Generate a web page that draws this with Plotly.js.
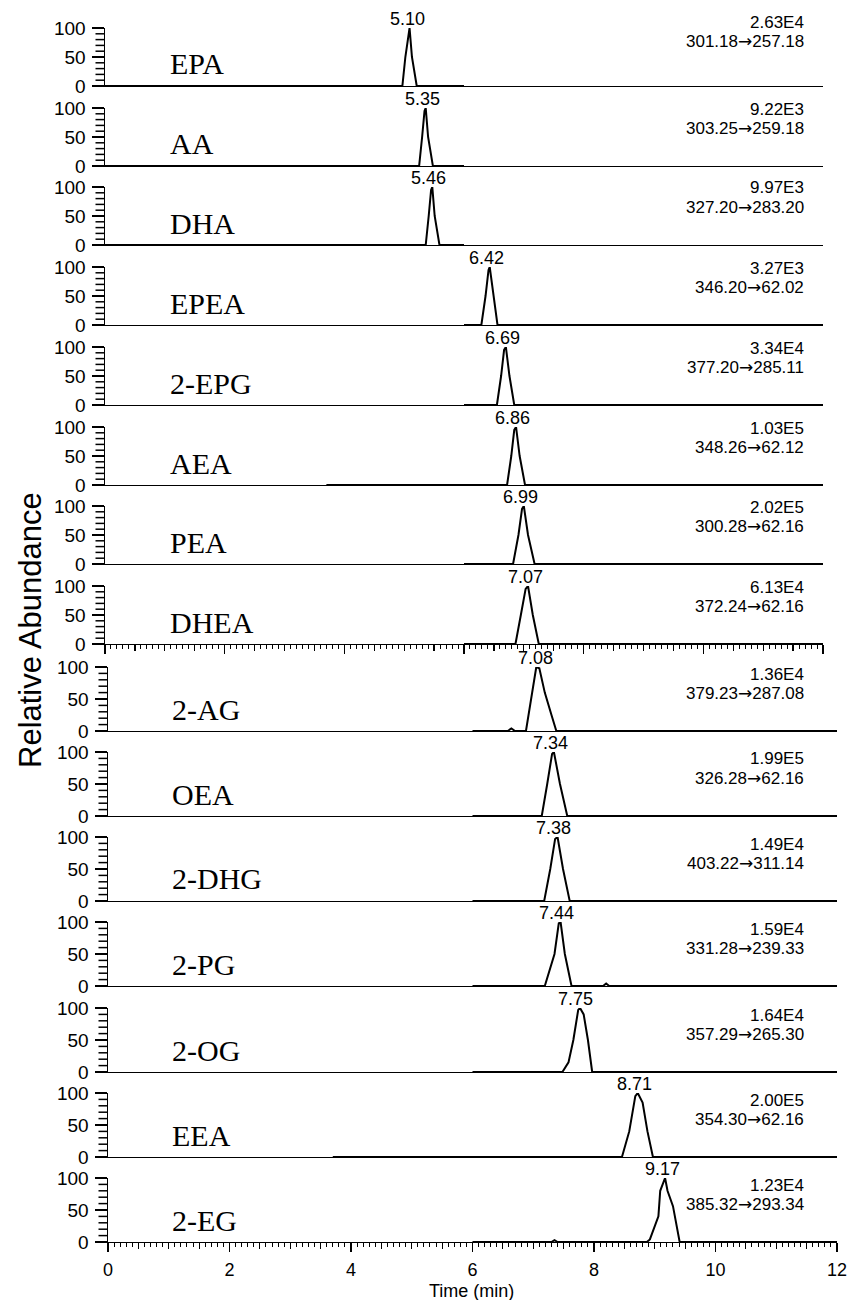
<!DOCTYPE html>
<html><head><meta charset="utf-8">
<script src="https://cdn.plot.ly/plotly-3.0.1.min.js"></script>
<style>body{margin:0;padding:0;background:#fff}</style>
</head><body><div id="chart" style="width:847px;height:1300px"></div>
<script>
// ---------- data ----------
const compounds = ['EPA','AA','DHA','EPEA','2-EPG','AEA','PEA','DHEA','2-AG','OEA','2-DHG','2-PG','2-OG','EEA','2-EG'];
const retentionTimes = ['5.10','5.35','5.46','6.42','6.69','6.86','6.99','7.07','7.08','7.34','7.38','7.44','7.75','8.71','9.17'];
const intensities = ['2.63E4','9.22E3','9.97E3','3.27E3','3.34E4','1.03E5','2.02E5','6.13E4','1.36E4','1.99E5','1.49E4','1.59E4','1.64E4','2.00E5','1.23E4'];
const precursorMz = ['301.18','303.25','327.20','346.20','377.20','348.26','300.28','372.24','379.23','326.28','403.22','331.28','357.29','354.30','385.32'];
const productMz = ['257.18','259.18','283.20','62.02','285.11','62.12','62.16','62.16','287.08','62.16','311.14','239.33','265.30','62.16','293.34'];

// chromatogram outlines (time in min, relative abundance in %)
const traceTimes = [
  [0, 4.97, 5.02, 5.07, 5.09, 5.13, 5.21, 6.0],
  [0, 5.25, 5.30, 5.34, 5.36, 5.40, 5.48, 6.0],
  [0, 5.36, 5.41, 5.45, 5.47, 5.51, 5.59, 6.0],
  [6.0, 6.29, 6.36, 6.41, 6.43, 6.49, 6.56, 12],
  [6.0, 6.55, 6.62, 6.67, 6.70, 6.76, 6.84, 12],
  [3.7, 6.72, 6.79, 6.84, 6.87, 6.93, 7.02, 12],
  [6.0, 6.82, 6.91, 6.97, 7.00, 7.07, 7.18, 12],
  [6.0, 6.86, 6.95, 7.03, 7.07, 7.15, 7.25, 12],
  [6.0, 6.58, 6.64, 6.70, 6.88, 6.97, 7.05, 7.10, 7.19, 7.30, 7.38, 12],
  [6.0, 7.14, 7.23, 7.31, 7.34, 7.44, 7.56, 12],
  [6.0, 7.18, 7.28, 7.36, 7.40, 7.49, 7.60, 12],
  [6.0, 7.19, 7.35, 7.42, 7.45, 7.52, 7.63, 8.15, 8.20, 8.25, 12],
  [6.0, 7.48, 7.58, 7.66, 7.74, 7.77, 7.83, 7.90, 7.97, 12],
  [3.7, 8.46, 8.58, 8.68, 8.72, 8.80, 8.88, 8.97, 12],
  [6.0, 7.30, 7.35, 7.40, 8.87, 8.92, 9.06, 9.09, 9.17, 9.21, 9.30, 9.41, 12]
];
const traceAbund = [
  [0, 0, 50, 92, 100, 50, 0, 0],
  [0, 0, 50, 95, 100, 50, 0, 0],
  [0, 0, 50, 95, 100, 50, 0, 0],
  [0, 0, 50, 95, 100, 50, 0, 0],
  [0, 0, 50, 95, 100, 50, 0, 0],
  [0, 0, 50, 95, 100, 50, 0, 0],
  [0, 0, 50, 95, 100, 50, 0, 0],
  [0, 0, 50, 95, 100, 50, 0, 0],
  [0, 0, 4, 0, 0, 50, 100, 98, 60, 25, 0, 0],
  [0, 0, 50, 97, 100, 50, 0, 0],
  [0, 0, 50, 97, 100, 50, 0, 0],
  [0, 0, 50, 98, 100, 50, 0, 0, 4, 0, 0],
  [0, 0, 15, 50, 97, 100, 90, 50, 0, 0],
  [0, 0, 40, 95, 100, 85, 40, 0, 0],
  [0, 0, 3, 0, 0, 4, 40, 80, 100, 80, 56, 0, 0]
];
const xTickVals = [0, 2, 4, 6, 8, 10, 12];
const yTickVals = [0, 50, 100];
const yMinorVals = [10, 20, 30, 40, 60, 70, 80, 90];
const xMinorVals = Array.from({length: 121}, (_, k) => +(k * 0.1).toFixed(1));
const xMidVals = Array.from({length: 25}, (_, k) => k * 0.5);

// ---------- layout geometry (pixels) ----------
const W = 847, H = 1300;
const SANS = 'Liberation Sans, Arial, sans-serif';
const SERIF = 'Liberation Serif, Times New Roman, serif';
const nTop = 8;
const N = compounds.length;
const YMAX = 100;
function zeroPx(i){ return Math.round(i < nTop ? 86 + 79.7*i : 730.7 + 85.2*(i-nTop)); }
function heightPx(i){ return i < nTop ? 58 : 64; }
function xDomPx(i){ return i < nTop ? [105, 823] : [108, 837]; }
function xDom(i){ const d = xDomPx(i); return [d[0]/W, d[1]/W]; }
function fy(px){ return 1 - px/H; }

const data = [];
const layout = {
  width: W, height: H, margin: {l:0, r:0, t:0, b:0},
  paper_bgcolor: '#fff', plot_bgcolor: 'rgba(0,0,0,0)',
  showlegend: false, annotations: [], shapes: [], font: {family: SANS, color: '#000'}
};

compounds.forEach((name, i) => {
  const n = i + 1;
  const z = zeroPx(i), h = heightPx(i);
  data.push({
    type: 'scatter', mode: 'lines', x: traceTimes[i], y: traceAbund[i],
    xaxis: 'x' + n, yaxis: 'y' + n, line: {color: '#000', width: 2},
    cliponaxis: false, hoverinfo: 'skip'
  });
  const last = i === N - 1;
  const hasTicks = (i === nTop - 1) || last;
  const xa = {
    domain: xDom(i), range: [0, 12], anchor: 'y' + n,
    showline: true, linecolor: '#000', linewidth: 1,
    showgrid: false, zeroline: false, fixedrange: true,
    ticks: hasTicks ? 'outside' : '', showticklabels: last,
    tickmode: 'array', tickvals: xTickVals, ticklen: 9, tickwidth: 1.5, tickcolor: '#000',
    ticklabeloverflow: 'allow', ticklabelstandoff: 2,
    tickfont: {family: SANS, size: 18, color: '#000'}
  };
  if (hasTicks) xa.minor = {tickmode: 'array', tickvals: xMinorVals, ticks: 'outside', ticklen: 3.5, tickwidth: 1, tickcolor: '#000', showgrid: false};
  layout['xaxis' + n] = xa;
  // y axis: long ticks and labels at 0/50/100
  layout['yaxis' + n] = {
    domain: [fy(z), fy(z - h)], range: [0, YMAX], anchor: 'x' + n,
    showline: true, linecolor: '#000', linewidth: 1.5,
    showgrid: false, zeroline: false, fixedrange: true,
    ticks: 'outside', tickmode: 'array', tickvals: yTickVals,
    ticklen: 12, tickwidth: 1.8, tickcolor: '#000', ticklabelstandoff: 2,
    tickfont: {family: SANS, size: 19, color: '#000'}
  };
  // short ruler ticks every 10 % on the y axis (drawn in the axis' own domain frame)
  const pw = xDomPx(i)[1] - xDomPx(i)[0];
  yMinorVals.forEach(v => {
    layout.shapes.push({
      type: 'line', xref: 'x' + n + ' domain', yref: 'y' + n + ' domain',
      x0: -9.5/pw, x1: -1/pw, y0: v/YMAX, y1: v/YMAX,
      line: {color: '#000', width: 1.5}, layer: 'above'
    });
  });
  // peak label
  layout.annotations.push({
    xref: 'x' + n, yref: 'y' + n, x: parseFloat(retentionTimes[i]), y: 100,
    text: retentionTimes[i], showarrow: false, xanchor: 'center', yanchor: 'bottom',
    xshift: -3, yshift: -3, font: {family: SANS, size: 18, color: '#000'}
  });
  // compound name
  layout.annotations.push({
    xref: 'paper', yref: 'paper', x: (i < nTop ? 168 : 170)/W, y: fy(z - 22),
    text: name, showarrow: false, xanchor: 'left', yanchor: 'middle',
    font: {family: SERIF, size: 30, color: '#000'}
  });
  // intensity and transition
  const o1 = i === 0 ? 63 : 57, o2 = i === 0 ? 45 : 38;
  layout.annotations.push({
    xref: 'paper', yref: 'paper', x: 806/W, y: fy(z - o1),
    text: intensities[i], showarrow: false, xanchor: 'right', yanchor: 'middle',
    font: {family: SANS, size: 17, color: '#000'}
  });
  layout.annotations.push({
    xref: 'paper', yref: 'paper', x: 806/W, y: fy(z - o2),
    text: precursorMz[i] + '<span style="font-family:DejaVu Sans">→</span>' + productMz[i],
    showarrow: false, xanchor: 'right', yanchor: 'middle',
    font: {family: SANS, size: 17, color: '#000'}
  });
});

// medium ticks every 0.5 min on the two time axes (overlay axes)
[[nTop, N + 1], [N, N + 2]].forEach(([base, n]) => {
  const i = base - 1;
  layout['xaxis' + n] = {
    domain: xDom(i), range: [0, 12], anchor: 'y' + base, overlaying: 'x' + base,
    showline: false, showgrid: false, zeroline: false, fixedrange: true,
    ticks: 'outside', tickmode: 'array', tickvals: xMidVals, ticklen: 6, tickwidth: 1.2,
    tickcolor: '#000', showticklabels: false
  };
  data.push({type: 'scatter', mode: 'lines', x: [], y: [], xaxis: 'x' + n, yaxis: 'y' + base, hoverinfo: 'skip'});
});

// axis titles
layout.annotations.push({
  xref: 'paper', yref: 'paper', x: 30/W, y: fy(630), text: 'Relative Abundance',
  textangle: -90, showarrow: false, xanchor: 'center', yanchor: 'middle',
  font: {family: SANS, size: 31, color: '#000'}
});
layout.annotations.push({
  xref: 'paper', yref: 'paper', x: 471/W, y: fy(1291), text: 'Time (min)',
  showarrow: false, xanchor: 'center', yanchor: 'middle',
  font: {family: SANS, size: 18, color: '#000'}
});

Plotly.newPlot('chart', data, layout, {displayModeBar: false, staticPlot: true});
</script></body></html>
